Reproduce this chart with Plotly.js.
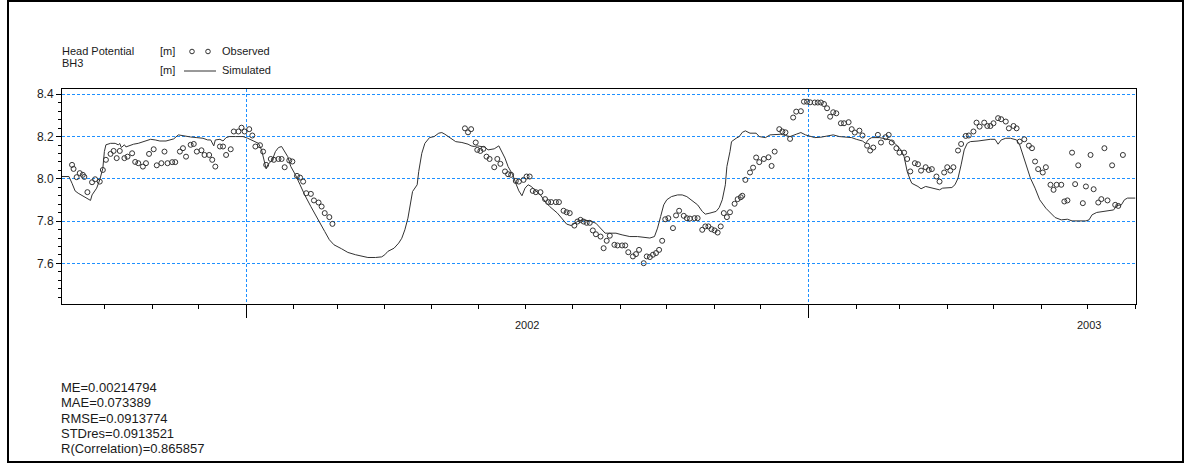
<!DOCTYPE html>
<html>
<head>
<meta charset="utf-8">
<script src="https://cdn.plot.ly/plotly-3.0.1.min.js"></script>
<style>
html,body{margin:0;padding:0;background:#fff;}
#chart{position:absolute;left:0;top:0;width:1187px;height:464px;}
</style>
</head>
<body>
<div id="chart"></div>
<script>
// ---------------- DATA ----------------
const simDates = [
'2001-09-03','2001-09-08','2001-09-10','2001-09-12','2001-09-14','2001-09-17','2001-09-20','2001-09-22','2001-09-23','2001-09-26',
'2001-09-28','2001-09-30','2001-10-01','2001-10-02','2001-10-05','2001-10-08','2001-10-10','2001-10-11','2001-10-12','2001-10-14',
'2001-10-15','2001-10-17','2001-10-20','2001-10-23','2001-10-26','2001-10-31','2001-11-03','2001-11-06','2001-11-10','2001-11-13',
'2001-11-15','2001-11-18','2001-11-21','2001-11-26','2001-11-30','2001-12-04','2001-12-07','2001-12-09','2001-12-11','2001-12-12',
'2001-12-15','2001-12-17','2001-12-19','2001-12-21','2001-12-25','2001-12-30','2002-01-02','2002-01-06','2002-01-09','2002-01-11',
'2002-01-13','2002-01-14','2002-01-15','2002-01-18','2002-01-20','2002-01-22','2002-01-24','2002-01-26','2002-01-28','2002-01-30',
'2002-02-02','2002-02-05','2002-02-08','2002-02-12','2002-02-16','2002-02-21','2002-02-24','2002-02-27','2002-03-04','2002-03-08',
'2002-03-13','2002-03-17','2002-03-21','2002-03-26','2002-03-30','2002-04-01','2002-04-03','2002-04-07','2002-04-10','2002-04-12',
'2002-04-14','2002-04-16','2002-04-18','2002-04-19','2002-04-22','2002-04-23','2002-04-25','2002-04-27','2002-04-30','2002-05-03',
'2002-05-06','2002-05-08','2002-05-10','2002-05-13','2002-05-17','2002-05-21','2002-05-25','2002-05-27','2002-05-29','2002-05-31',
'2002-06-03','2002-06-05','2002-06-07','2002-06-11','2002-06-14','2002-06-16','2002-06-18','2002-06-20','2002-06-23','2002-06-25',
'2002-06-27','2002-06-29','2002-07-01','2002-07-03','2002-07-05','2002-07-08','2002-07-11','2002-07-14','2002-07-17','2002-07-22',
'2002-07-25','2002-07-28','2002-07-31','2002-08-04','2002-08-07','2002-08-12','2002-08-16','2002-08-19','2002-08-22','2002-08-25',
'2002-08-29','2002-09-02','2002-09-07','2002-09-12','2002-09-16','2002-09-20','2002-09-23','2002-09-25','2002-09-27','2002-09-29',
'2002-10-01','2002-10-04','2002-10-08','2002-10-11','2002-10-14','2002-10-17','2002-10-21','2002-10-24','2002-10-26','2002-10-29',
'2002-11-02','2002-11-04','2002-11-06','2002-11-08','2002-11-09','2002-11-11','2002-11-12','2002-11-15','2002-11-17','2002-11-19',
'2002-11-21','2002-11-24','2002-11-28','2002-11-30','2002-12-04','2002-12-07','2002-12-11','2002-12-14','2002-12-17','2002-12-20',
'2002-12-24','2002-12-27','2002-12-30','2003-01-02','2003-01-05','2003-01-09','2003-01-12','2003-01-15','2003-01-17','2003-01-21',
'2003-01-25','2003-01-29','2003-02-01','2003-02-05','2003-02-07','2003-02-09','2003-02-11','2003-02-16','2003-02-20','2003-02-23',
'2003-02-26','2003-03-02','2003-03-04','2003-03-06','2003-03-08','2003-03-09','2003-03-13','2003-03-15','2003-03-18','2003-03-21',
'2003-03-24','2003-03-27','2003-03-29','2003-04-01','2003-04-04','2003-04-06','2003-04-08','2003-04-10','2003-04-12','2003-04-14',
'2003-04-16','2003-04-21','2003-04-25','2003-04-29','2003-05-02','2003-05-04','2003-05-06','2003-05-09','2003-05-12','2003-05-16',
'2003-05-18','2003-05-20','2003-05-23','2003-05-25','2003-05-28','2003-05-31','2003-06-04','2003-06-07','2003-06-10','2003-06-14',
'2003-06-18','2003-06-21','2003-06-26','2003-06-30','2003-07-02','2003-07-04','2003-07-07','2003-07-12','2003-07-16','2003-07-18',
'2003-07-20','2003-07-23','2003-07-25','2003-07-27','2003-08-01'
];
const simValues = [
8.011,8.011,7.979,7.943,7.932,7.920,7.909,7.898,7.924,7.956,
7.995,8.050,8.129,8.161,8.168,8.168,8.161,8.167,8.148,8.161,
8.151,8.157,8.164,8.168,8.176,8.187,8.184,8.179,8.179,8.187,
8.189,8.208,8.203,8.198,8.195,8.192,8.184,8.184,8.156,8.184,
8.187,8.179,8.195,8.200,8.200,8.200,8.192,8.179,8.168,8.137,
8.074,8.047,8.066,8.090,8.129,8.148,8.153,8.132,8.105,8.058,
8.019,7.972,7.924,7.869,7.814,7.751,7.712,7.688,7.669,7.652,
7.641,7.633,7.628,7.628,7.631,7.641,7.657,7.672,7.696,7.719,
7.759,7.814,7.893,7.940,7.972,8.035,8.121,8.168,8.195,8.200,
8.216,8.219,8.211,8.195,8.176,8.172,8.164,8.156,8.153,8.156,
8.153,8.150,8.137,8.142,8.156,8.129,8.098,8.058,8.019,7.979,
7.943,7.920,7.956,7.972,7.964,7.943,7.924,7.893,7.869,7.838,
7.814,7.786,7.779,7.798,7.806,7.801,7.790,7.767,7.743,7.743,
7.743,7.735,7.727,7.727,7.723,7.720,7.727,7.767,7.822,7.877,
7.901,7.916,7.924,7.924,7.916,7.901,7.877,7.846,7.833,7.838,
7.846,7.864,7.901,7.972,8.058,8.129,8.176,8.192,8.200,8.220,
8.227,8.216,8.216,8.200,8.195,8.208,8.211,8.211,8.205,8.200,
8.211,8.219,8.208,8.200,8.195,8.197,8.200,8.203,8.208,8.200,
8.197,8.195,8.187,8.179,8.168,8.187,8.195,8.195,8.189,8.184,
8.168,8.137,8.105,8.035,7.995,7.979,7.964,7.953,7.964,7.959,
7.956,7.948,7.956,7.959,7.959,7.972,8.003,8.066,8.137,8.168,
8.176,8.179,8.184,8.187,8.187,8.164,8.184,8.192,8.192,8.184,
8.161,8.113,8.050,8.003,7.956,7.901,7.861,7.838,7.817,7.806,
7.809,7.801,7.801,7.801,7.806,7.830,7.841,7.846,7.849,7.853,
7.874,7.877,7.901,7.909,7.909
];
const obsDates = [
'2001-09-10','2001-09-11','2001-09-13','2001-09-15','2001-09-17','2001-09-18','2001-09-20','2001-09-23','2001-09-25','2001-09-28',
'2001-09-30','2001-10-02','2001-10-05','2001-10-07','2001-10-09','2001-10-11','2001-10-14','2001-10-16','2001-10-19','2001-10-21',
'2001-10-23','2001-10-26','2001-10-28','2001-10-30','2001-11-02','2001-11-04','2001-11-07','2001-11-09','2001-11-11','2001-11-14',
'2001-11-16','2001-11-19','2001-11-21','2001-11-23','2001-11-26','2001-11-28','2001-11-30','2001-12-03','2001-12-05','2001-12-08',
'2001-12-10','2001-12-12','2001-12-15','2001-12-17','2001-12-19','2001-12-22','2001-12-24','2001-12-27','2001-12-29','2001-12-31',
'2002-01-03','2002-01-05','2002-01-07','2002-01-10','2002-01-12','2002-01-14','2002-01-17','2002-01-19','2002-01-22','2002-01-24',
'2002-01-26','2002-01-29','2002-01-31','2002-02-03','2002-02-05','2002-02-07','2002-02-09','2002-02-12','2002-02-14','2002-02-17',
'2002-02-19','2002-02-21','2002-02-24','2002-02-26',
'2002-05-23','2002-05-25','2002-05-27','2002-05-30','2002-05-31','2002-06-02','2002-06-04','2002-06-06','2002-06-08','2002-06-11',
'2002-06-13','2002-06-15','2002-06-18','2002-06-20','2002-06-22','2002-06-25','2002-06-27','2002-06-30','2002-07-02','2002-07-04',
'2002-07-06','2002-07-08','2002-07-11','2002-07-14','2002-07-16','2002-07-18','2002-07-21','2002-07-23','2002-07-26','2002-07-28',
'2002-07-30','2002-08-02','2002-08-04','2002-08-06','2002-08-08','2002-08-10','2002-08-12','2002-08-14','2002-08-16','2002-08-19',
'2002-08-21','2002-08-23','2002-08-25','2002-08-28','2002-08-30','2002-09-02','2002-09-04','2002-09-06','2002-09-09','2002-09-11',
'2002-09-13','2002-09-16','2002-09-18','2002-09-20','2002-09-22','2002-09-24','2002-09-26','2002-09-28','2002-09-30','2002-10-02',
'2002-10-05','2002-10-07','2002-10-09','2002-10-12','2002-10-14','2002-10-16','2002-10-19','2002-10-21','2002-10-24','2002-10-26',
'2002-10-28','2002-10-30','2002-11-01','2002-11-03','2002-11-05','2002-11-07','2002-11-09','2002-11-11','2002-11-14','2002-11-16',
'2002-11-18','2002-11-19','2002-11-21','2002-11-24','2002-11-26','2002-11-28','2002-11-30','2002-12-03','2002-12-06','2002-12-08',
'2002-12-10','2002-12-13','2002-12-15','2002-12-17','2002-12-20','2002-12-22','2002-12-24','2002-12-27','2002-12-29','2002-12-31',
'2003-01-02','2003-01-05','2003-01-07','2003-01-09','2003-01-11','2003-01-13','2003-01-15','2003-01-17','2003-01-19','2003-01-22',
'2003-01-24','2003-01-27','2003-01-29','2003-01-31','2003-02-03','2003-02-05','2003-02-08','2003-02-10','2003-02-12','2003-02-15',
'2003-02-17','2003-02-20','2003-02-22','2003-02-24','2003-02-27','2003-03-01','2003-03-04','2003-03-06','2003-03-08','2003-03-11',
'2003-03-13','2003-03-15','2003-03-18','2003-03-20','2003-03-22','2003-03-25','2003-03-27','2003-03-30','2003-04-01','2003-04-03',
'2003-04-05','2003-04-08','2003-04-10','2003-04-13','2003-04-15','2003-04-18','2003-04-20','2003-04-22','2003-04-25','2003-04-27',
'2003-04-29','2003-05-01','2003-05-04','2003-05-06','2003-05-09','2003-05-11','2003-05-14','2003-05-16','2003-05-18','2003-05-21',
'2003-05-24','2003-05-26','2003-05-28','2003-05-30','2003-06-02','2003-06-04','2003-06-07','2003-06-09','2003-06-11','2003-06-14',
'2003-06-16','2003-06-18','2003-06-21','2003-06-23','2003-06-25','2003-06-28','2003-06-30','2003-07-03','2003-07-05','2003-07-08',
'2003-07-10','2003-07-12','2003-07-14','2003-07-17','2003-07-19','2003-07-21','2003-07-24'
];
const obsValues = [
8.066,8.047,8.008,8.027,8.019,8.009,7.937,7.984,7.998,7.987,
8.042,8.090,8.118,8.132,8.098,8.132,8.098,8.105,8.121,8.080,
8.074,8.058,8.074,8.118,8.140,8.064,8.074,8.129,8.074,8.079,
8.079,8.129,8.145,8.105,8.161,8.165,8.129,8.135,8.113,8.113,
8.090,8.058,8.153,8.153,8.113,8.140,8.224,8.224,8.242,8.224,
8.235,8.205,8.153,8.159,8.129,8.066,8.094,8.090,8.094,8.094,
8.055,8.087,8.082,8.014,8.006,7.987,7.932,7.929,7.898,7.888,
7.869,7.838,7.819,7.787,
8.239,8.220,8.235,8.172,8.137,8.132,8.142,8.105,8.094,8.055,
8.094,8.071,8.035,8.022,8.019,7.990,7.987,7.995,8.011,8.011,
7.943,7.937,7.937,7.904,7.890,7.890,7.890,7.890,7.849,7.842,
7.838,7.779,7.798,7.806,7.798,7.792,7.792,7.756,7.738,7.727,
7.672,7.707,7.731,7.688,7.685,7.685,7.685,7.653,7.633,7.644,
7.664,7.601,7.633,7.630,7.641,7.649,7.664,7.707,7.809,7.814,
7.767,7.827,7.849,7.825,7.814,7.812,7.814,7.814,7.759,7.775,
7.775,7.762,7.756,7.746,7.775,7.838,7.819,7.842,7.882,7.904,
7.913,7.920,7.995,8.030,8.053,8.101,8.079,8.094,8.102,8.061,
8.129,8.235,8.224,8.220,8.189,8.290,8.318,8.320,8.365,8.365,
8.362,8.361,8.361,8.361,8.354,8.334,8.294,8.315,8.310,8.263,
8.263,8.268,8.235,8.219,8.228,8.205,8.157,8.134,8.148,8.208,
8.172,8.197,8.208,8.172,8.145,8.124,8.124,8.094,8.035,8.074,
8.069,8.039,8.055,8.042,8.046,8.011,7.987,8.030,8.055,8.039,
8.055,8.134,8.165,8.203,8.205,8.224,8.266,8.247,8.266,8.250,
8.250,8.263,8.287,8.282,8.271,8.239,8.250,8.239,8.176,8.187,
8.157,8.145,8.082,8.046,8.030,8.055,7.972,7.948,7.972,7.972,
7.893,7.898,8.124,7.975,8.064,7.885,7.964,8.113,7.951,7.888,
7.904,8.145,7.898,8.064,7.877,7.872,8.113
];
const yearLabels = ['2002', '2003'];
const yearLabelDates = ['2002-07-02', '2003-07-02'];
const yearStartDates = ['2002-01-01', '2003-01-01'];
const legendTitle = ['Head Potential', 'BH3'];
const seriesNames = ['Observed', 'Simulated'];
const seriesUnit = '[m]';
const statsLines = ['ME=0.00214794', 'MAE=0.073389', 'RMSE=0.0913774', 'STDres=0.0913521', 'R(Correlation)=0.865857'];

// ---------------- LAYOUT ----------------
const FONT = 'Liberation Sans, Arial, sans-serif';
const PL = 62, PR = 1136, PT = 89, PB = 304;        // plot area in pixels
const PW = PR - PL, PH = PB - PT;
const px = X => (X - PL) / PW;                        // pixel -> paper x
const py = Y => (PB - Y) / PH;                        // pixel -> paper y
const GRID = 'rgb(30,144,255)';
const INK = '#1a1a1a';

const traces = [
  {
    type: 'scatter', mode: 'lines', name: seriesNames[1],
    x: simDates, y: simValues,
    line: {color: '#333333', width: 1}, hoverinfo: 'skip'
  },
  {
    type: 'scatter', mode: 'markers', name: seriesNames[0],
    x: obsDates, y: obsValues,
    marker: {symbol: 'circle-open', size: 5, color: '#333333', line: {width: 1}}, hoverinfo: 'skip'
  }
];

const annotations = [];
function txt(text, x, y, size) {
  annotations.push({text: text, xref: 'paper', yref: 'paper', x: x, y: y,
    xanchor: 'left', yanchor: 'middle', showarrow: false, borderpad: 0,
    font: {family: FONT, size: size, color: INK}});
}
txt(legendTitle[0], px(61), py(51), 11);
txt(legendTitle[1], px(61), py(63.5), 11);
txt(seriesUnit, px(159), py(51), 11);
txt(seriesUnit, px(159), py(70), 11);
txt(seriesNames[0], px(221), py(51), 11);
txt(seriesNames[1], px(221), py(70), 11);
statsLines.forEach((s, i) => txt(s, px(60), py(387.6 + i * 15.2), 13));
yearLabels.forEach((s, i) => annotations.push({
  text: s, xref: 'x', yref: 'paper', x: yearLabelDates[i], y: py(325),
  xanchor: 'center', yanchor: 'middle', showarrow: false, borderpad: 0,
  font: {family: FONT, size: 11, color: INK}
}));

const shapes = [
  // legend line sample
  {type: 'line', xref: 'paper', yref: 'paper', x0: px(184), x1: px(216), y0: py(71), y1: py(71),
   line: {color: '#333333', width: 1}},
  // legend marker samples
  {type: 'circle', xref: 'paper', yref: 'paper', xsizemode: 'pixel', ysizemode: 'pixel',
   xanchor: px(192), yanchor: py(51.5), x0: -2.3, x1: 2.3, y0: -2.3, y1: 2.3,
   line: {color: '#333333', width: 1}},
  {type: 'circle', xref: 'paper', yref: 'paper', xsizemode: 'pixel', ysizemode: 'pixel',
   xanchor: px(208), yanchor: py(51.5), x0: -2.3, x1: 2.3, y0: -2.3, y1: 2.3,
   line: {color: '#333333', width: 1}},
  // outer frame
  {type: 'rect', xref: 'paper', yref: 'paper', x0: px(8), x1: px(1183), y0: py(462), y1: py(1),
   line: {color: '#000', width: 2}, layer: 'above'}
];

const layout = {
  width: 1187, height: 464,
  margin: {l: PL, r: 1187 - PR, t: PT, b: 464 - PB, pad: 0},
  paper_bgcolor: '#ffffff', plot_bgcolor: '#ffffff',
  showlegend: false,
  font: {family: FONT, size: 12, color: INK},
  xaxis: {
    type: 'date', range: ['2001-09-03 12:00', '2003-08-01 12:00'],
    tickmode: 'array', tickvals: yearStartDates, showticklabels: false,
    ticks: 'outside', ticklen: 13, tickwidth: 1, tickcolor: '#000',
    showgrid: true, gridcolor: GRID, gridwidth: 1, griddash: '3px,2px',
    showline: true, linecolor: '#000', linewidth: 1, mirror: true, zeroline: false,
    minor: {tickmode: 'linear', tick0: '2001-09-01', dtick: 'M1', ticks: 'outside',
            ticklen: 4, tickwidth: 1, tickcolor: '#000', showgrid: false},
    fixedrange: true
  },
  yaxis: {
    range: [7.408, 8.425], tickmode: 'linear', tick0: 7.6, dtick: 0.2, tickformat: '.1f',
    ticks: 'outside', ticklen: 5, tickwidth: 1, tickcolor: '#000',
    tickfont: {family: FONT, size: 12, color: INK},
    showgrid: true, gridcolor: GRID, gridwidth: 1, griddash: '3px,2px',
    showline: true, linecolor: '#000', linewidth: 1, mirror: true, zeroline: false,
    minor: {tickmode: 'linear', tick0: 7.6, dtick: 0.04, ticks: 'outside',
            ticklen: 3, tickwidth: 1, tickcolor: '#000', showgrid: false},
    fixedrange: true
  },
  annotations: annotations,
  shapes: shapes
};

Plotly.newPlot('chart', traces, layout, {staticPlot: true, displayModeBar: false});
</script>
</body>
</html>
